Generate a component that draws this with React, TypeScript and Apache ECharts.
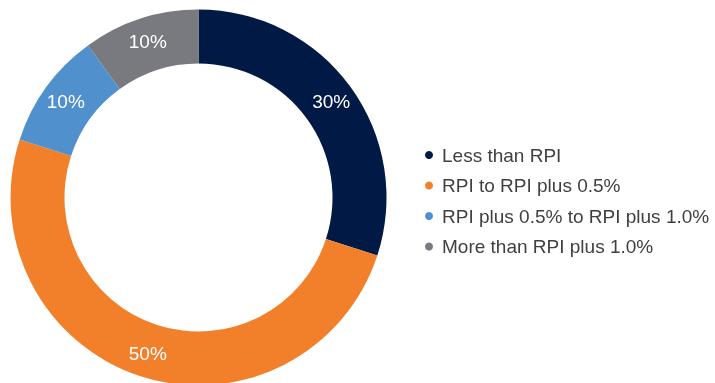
import React, { useEffect, useRef } from "react";
import * as echarts from "echarts";

const categories = [
  "Less than RPI",
  "RPI to RPI plus 0.5%",
  "RPI plus 0.5% to RPI plus 1.0%",
  "More than RPI plus 1.0%",
];
const values = [30, 50, 10, 10];
const colors = ["#001a45", "#f2802b", "#4f90cd", "#787a80"];

export default function App() {
  const ref = useRef<HTMLDivElement>(null);
  useEffect(() => {
    if (!ref.current) return;
    const chart = echarts.init(ref.current, null, { renderer: "svg" });
    chart.setOption({
      animation: false,
      color: colors,
      legend: {
        orient: "vertical",
        left: 425,
        top: 145.5,
        padding: 0,
        itemGap: 11.5,
        itemWidth: 8,
        itemHeight: 8,
        icon: "circle",
        textStyle: {
          fontFamily: "Liberation Sans, Arial, sans-serif",
          fontSize: 19,
          lineHeight: 19,
          color: "#404040",
          padding: [0, 0, 0, 4],
        },
        data: categories,
      },
      series: [
        {
          type: "pie",
          center: [198.5, 197.5],
          radius: [134, 188],
          startAngle: 90,
          clockwise: true,
          avoidLabelOverlap: false,
          label: {
            show: true,
            position: "inside",
            formatter: "{c}%",
            color: "#ffffff",
            fontSize: 19,
            fontFamily: "Liberation Sans, Arial, sans-serif",
          },
          labelLine: { show: false },
          itemStyle: { borderWidth: 0 },
          emphasis: { disabled: true },
          data: categories.map((name, i) => ({ name, value: values[i] })),
        },
      ],
    });
    return () => chart.dispose();
  }, []);
  return (
    <div
      ref={ref}
      style={{ position: "fixed", left: 0, top: 0, width: 715, height: 383 }}
    />
  );
}
